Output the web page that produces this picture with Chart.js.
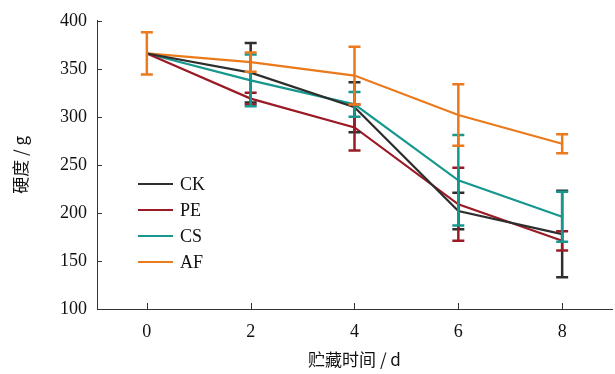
<!DOCTYPE html>
<html>
<head>
<meta charset="utf-8">
<script src="https://cdn.jsdelivr.net/npm/chart.js@4.4.1/dist/chart.umd.min.js"></script>
<style>
  html, body { margin: 0; padding: 0; background: #fff; }
  #wrap { width: 615px; height: 374px; position: relative; }
</style>
</head>
<body>
<div id="wrap"><canvas id="hardCanvas"></canvas></div>
<script>
// storage days and hardness (g)
var days = [0, 2, 4, 6, 8];
var xTicks = [0, 2, 4, 6, 8];
var yTicks = [100, 150, 200, 250, 300, 350, 400];

var ckVals = [366, 346, 310, 202, 178];
var peVals = [366, 319, 289, 209, 171];
var csVals = [366, 338, 313, 234, 196];
var afVals = [366, 357, 343, 302, 272];

var ckErr = [0, 31, 26, 19, 45];
var peErr = [0, 6, 24, 38, 10];
var csErr = [0, 27, 13, 47, 26];
var afErr = [22, 10, 30, 32, 10];

var names = ['CK', 'PE', 'CS', 'AF'];
var colors = ['#2e2e2e', '#9a1b26', '#17988f', '#ea7a1c'];

var serif = '"Liberation Serif", "Times New Roman", serif';

function pts(vals) {
    var out = [];
    for (var i in days) {
        out.push({ x: days[i], y: vals[i] });
    }
    return out;
}

var allVals = [ckVals, peVals, csVals, afVals];
var allErr = [ckErr, peErr, csErr, afErr];

var datasets = [];
for (var k = 0; k < names.length; k++) {
    datasets.push({
        label: names[k],
        data: pts(allVals[k]),
        borderColor: colors[k],
        backgroundColor: colors[k],
        borderWidth: 2.2,
        pointRadius: 0,
        tension: 0,
        errs: allErr[k]
    });
}

// error bars, inward ticks and the legend box
var extras = {
    id: 'extras',
    afterDatasetsDraw: function (chart) {
        var ctx = chart.ctx;
        var xs = chart.scales.x, ys = chart.scales.y;
        ctx.save();
        chart.data.datasets.forEach(function (ds) {
            ctx.strokeStyle = ds.borderColor;
            ctx.lineWidth = 2.5;
            ds.data.forEach(function (p, i) {
                var e = ds.errs[i];
                if (!e) return;
                var px = xs.getPixelForValue(p.x);
                var top = ys.getPixelForValue(p.y + e);
                var bot = ys.getPixelForValue(p.y - e);
                ctx.beginPath();
                ctx.moveTo(px, top); ctx.lineTo(px, bot);
                ctx.moveTo(px - 6, top); ctx.lineTo(px + 6, top);
                ctx.moveTo(px - 6, bot); ctx.lineTo(px + 6, bot);
                ctx.stroke();
            });
        });

        // tick marks pointing inward
        ctx.strokeStyle = '#333';
        ctx.lineWidth = 1;
        ctx.beginPath();
        yTicks.forEach(function (v) {
            var py = Math.round(ys.getPixelForValue(v)) + 0.5;
            ctx.moveTo(xs.left, py); ctx.lineTo(xs.left + 5, py);
        });
        xTicks.forEach(function (v) {
            var px = Math.round(xs.getPixelForValue(v)) + 0.5;
            ctx.moveTo(px, ys.bottom); ctx.lineTo(px, ys.bottom - 6);
        });
        ctx.stroke();

        // legend
        ctx.font = '18px ' + serif;
        ctx.textBaseline = 'middle';
        ctx.textAlign = 'left';
        for (var k = 0; k < names.length; k++) {
            var ly = 184 + k * 26;
            ctx.strokeStyle = colors[k];
            ctx.lineWidth = 2.2;
            ctx.beginPath();
            ctx.moveTo(138, ly); ctx.lineTo(173, ly);
            ctx.stroke();
            ctx.fillStyle = '#111';
            ctx.fillText(names[k], 180, ly + 1);
        }
        ctx.restore();
    }
};

var graphTarget = document.getElementById('hardCanvas');

var lineGraph = new Chart(graphTarget, {
    type: 'line',
    data: { datasets: datasets },
    options: {
        responsive: true,
        maintainAspectRatio: false,
        animation: false,
        layout: { padding: { top: 20, right: 3, left: 0, bottom: 0 } },
        plugins: {
            legend: { display: false },
            tooltip: { enabled: false }
        },
        scales: {
            x: {
                type: 'linear',
                min: -0.96,
                max: 8.96,
                afterBuildTicks: function (s) {
                    s.ticks = xTicks.map(function (v) { return { value: v }; });
                },
                afterFit: function (s) { s.height = 65; },
                grid: { display: false, drawTicks: false },
                border: { display: true, color: '#333', width: 1 },
                ticks: {
                    color: '#111',
                    padding: 12,
                    font: { family: serif, size: 18 }
                },
                title: {
                    display: true,
                    text: '贮藏时间 / d',
                    color: '#111',
                    padding: { top: 10 },
                    font: { family: '"Noto Sans CJK SC", serif', size: 17 }
                }
            },
            y: {
                min: 100,
                max: 400,
                afterBuildTicks: function (s) {
                    s.ticks = yTicks.map(function (v) { return { value: v }; });
                },
                afterFit: function (s) { s.width = 97; },
                grid: { display: false, drawTicks: false },
                border: { display: true, color: '#333', width: 1 },
                ticks: {
                    color: '#111',
                    padding: 10,
                    font: { family: serif, size: 18 }
                },
                title: {
                    display: true,
                    text: '硬度 / g',
                    color: '#111',
                    padding: { top: 10, bottom: 4 },
                    font: { family: '"Noto Sans CJK SC", serif', size: 17 }
                }
            }
        }
    },
    plugins: [extras]
});
</script>
</body>
</html>
